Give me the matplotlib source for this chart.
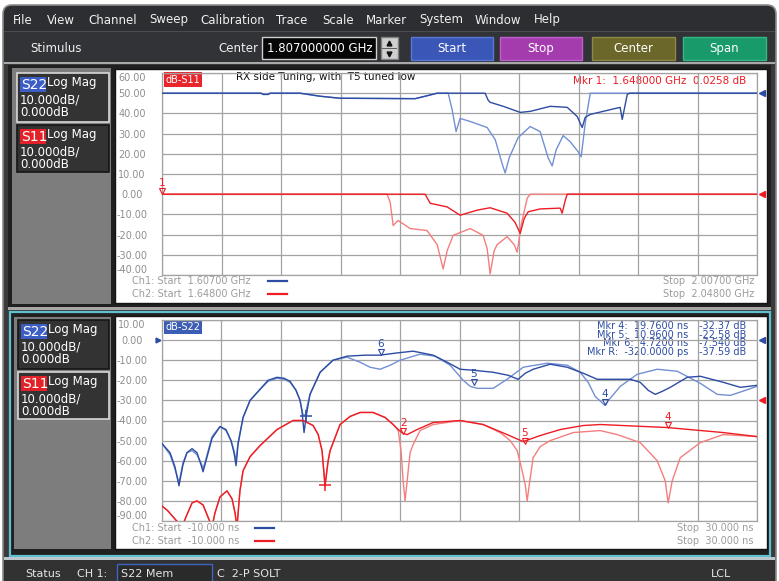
import numpy as np
import matplotlib
matplotlib.use('Agg')
import matplotlib.pyplot as plt
from matplotlib.patches import Rectangle, FancyBboxPatch
from matplotlib.transforms import offset_copy, blended_transform_factory

# ======================= DATA =======================
menu_items = ['File', 'View', 'Channel', 'Sweep', 'Calibration', 'Trace',
              'Scale', 'Marker', 'System', 'Window', 'Help']
center_value = '1.807000000 GHz'
button_labels = ['Start', 'Stop', 'Center', 'Span']

# ---- upper chart: frequency domain (GHz, dB) ----
ch1_start, ch1_stop = 1.607, 2.007
ch2_start, ch2_stop = 1.648, 2.048
upper_ticks = [60, 50, 40, 30, 20, 10, 0, -10, -20, -30, -40]
upper_title = 'RX side Tuning, with  T5 tuned low'

# S22 (Ch1) memory trace (lighter blue)
s22_f_mem = [1.6070, 1.6736, 1.6750, 1.6783, 1.6797, 1.6998, 1.7133, 1.7267, 1.7772,
             1.7839, 1.7920, 1.7994, 1.8020, 1.8047, 1.8074, 1.8142, 1.8256, 1.8310,
             1.8357, 1.8377, 1.8404, 1.8464, 1.8545, 1.8612, 1.8666, 1.8693, 1.8720,
             1.8767, 1.8814, 1.8868, 1.8888, 1.8915, 1.8949, 2.0070]
s22_db_mem = [50, 50, 49.4, 49.4, 50, 50, 48.5, 47.5, 47.3,
              48.5, 50, 50, 42, 31, 37.5, 36, 33, 27,
              15, 10.5, 18, 28, 33.5, 31, 18, 14, 22,
              29, 26, 21, 18.5, 35, 50, 50]
# S22 (Ch1) data trace (darker blue)
s22_f_dat = [1.6070, 1.6736, 1.6750, 1.6783, 1.6797, 1.6998, 1.7133, 1.7267, 1.7772,
             1.7839, 1.7920, 1.8242, 1.8263, 1.8276, 1.8364, 1.8478, 1.8545, 1.8680,
             1.8794, 1.8861, 1.8895, 1.8915, 1.8949, 1.9150, 1.9164, 1.9198, 1.9218, 2.0070]
s22_db_dat = [50, 50, 49.4, 49.4, 50, 50, 48.5, 47.5, 47.3,
              48.5, 50, 50, 46.5, 45.5, 43.5, 40.5, 41, 43.5,
              43, 38.5, 33, 38, 39.5, 43, 37, 49.5, 50, 50]
# S11 (Ch2) memory trace (lighter red)
s11_f_mem = [1.6480, 1.7993, 1.8014, 1.8034, 1.8067, 1.8148, 1.8262, 1.8330, 1.8370,
             1.8397, 1.8437, 1.8552, 1.8639, 1.8666, 1.8686, 1.8713, 1.8733, 1.8800,
             1.8848, 1.8868, 1.8895, 1.8935, 1.8955, 2.0480]
s11_db_mem = [0, 0, -4, -15.5, -13, -17, -18, -25, -37,
              -28, -20.4, -17, -20.4, -27, -39.5, -28, -25, -21,
              -25, -28.7, -15, -2, 0, 0]
# S11 (Ch2) data trace (darker red)
s11_f_dat = [1.6480, 1.8249, 1.8283, 1.8397, 1.8484, 1.8599, 1.8686, 1.8800, 1.8854,
             1.8888, 1.8915, 1.8942, 1.9022, 1.9157, 1.9170, 1.9191, 1.9204, 2.0480]
s11_db_dat = [0, 0, -4.5, -6.3, -10.4, -7.9, -6.7, -9.4, -14,
              -19.4, -12, -8.7, -7.3, -6.9, -9.4, -3, 0, 0]
upper_marker = ('1', 1.648000, 0.0258)

# ---- lower chart: time domain (ns, dB) ----
t_start, t_stop = -10.0, 30.0
lower_ticks = [10, 0, -10, -20, -30, -40, -50, -60, -70, -80, -90]

s22_t_dat = [-10.0, -9.46, -9.13, -8.86, -8.59, -8.32, -7.98, -7.65, -7.38, -7.24, -7.04,
             -6.64, -6.10, -5.70, -5.36, -5.16, -5.02, -4.89, -4.55, -4.08, -3.41, -2.87,
             -2.27, -1.79, -1.39, -0.99, -0.72, -0.58, -0.45, -0.31, -0.05, 0.63, 1.50,
             2.44, 3.65, 4.66, 5.67, 6.88, 8.23, 9.17, 10.04, 10.92, 12.26, 13.27, 13.94,
             14.42, 14.95, 16.10, 17.24, 18.32, 19.26, 21.48, 22.15, 22.69, 23.16, 23.63,
             24.17, 25.31, 26.19, 27.73, 28.88, 30.0]
s22_db_dat_t = [-51.5, -56, -63, -72.5, -62, -56, -54, -56, -62, -65.5, -60,
                -49, -43, -44.5, -50, -56, -62.5, -52, -38.5, -30, -24.5, -20,
                -18.5, -19, -20.5, -25, -30, -36, -46, -38, -27, -16, -10,
                -8, -7.5, -7.5, -6.5, -5.5, -7.5, -11, -14.5, -15, -16, -17.5, -19.5,
                -16.5, -14.5, -12, -13.5, -16.5, -19.5, -19.5, -21, -25, -27, -25.5,
                -23.5, -18.5, -18, -21, -23.5, -22.5]
s22_t_mem = [-10.0, -9.46, -9.13, -8.86, -8.59, -8.32, -7.98, -7.65, -7.38, -7.24, -7.04,
             -6.64, -6.10, -5.70, -5.36, -5.16, -5.02, -4.89, -4.55, -4.08, -3.41, -2.87,
             -2.27, -1.79, -1.39, -0.99, -0.72, -0.52, -0.38, -0.25, -0.05, 0.63, 1.50,
             2.44, 3.31, 3.99, 4.66, 5.34, 6.01, 7.35, 8.36, 9.37, 10.25, 10.72, 11.19,
             12.26, 13.20, 14.28, 15.90, 17.24, 18.11, 18.65, 19.12, 19.76, 20.13, 20.81,
             21.95, 23.29, 24.64, 26.19, 27.33, 28.21, 29.22, 30.0]
s22_db_mem_t = [-51.5, -57, -64, -71, -61, -56, -55, -57, -61, -64, -59,
                -48, -43, -45, -50, -55, -60, -51, -38.5, -30, -24.5, -20.5,
                -19, -19.5, -21, -25, -30, -37, -37.6, -33, -27, -16, -10,
                -8.5, -11, -13.5, -14.5, -12.5, -10, -7, -8, -12.5, -20, -23, -24,
                -24, -19.5, -13.5, -11.5, -12.5, -16, -21, -28, -32.4, -29, -23,
                -17, -14.5, -15.5, -21.5, -27, -27.5, -25, -23]

s11_t_dat = [-10.0, -9.60, -9.13, -8.65, -8.39, -7.98, -7.65, -7.24, -6.91, -6.64, -6.44,
             -6.10, -5.63, -5.29, -5.09, -4.96, -4.76, -4.55, -4.08, -3.41, -2.27, -1.19,
             -0.52, 0.16, 0.50, 0.76, 0.96, 1.17, 1.30, 1.97, 2.64, 3.32, 4.19, 5.00,
             5.54, 5.88, 6.21, 6.48, 7.15, 8.23, 10.04, 11.59, 13.20, 14.28, 15.42, 16.77,
             18.32, 19.46, 23.97, 27.73, 30.0]
s11_db_dat_t = [-82.5, -85, -89, -93, -88, -81, -80, -82, -88, -93, -86,
                -78, -75, -79, -86, -93, -75, -65, -58, -52.5, -44.5, -40,
                -40, -42.5, -47, -55, -72.5, -60, -55, -42, -38, -36, -36, -38.5,
                -42, -44.5, -46.5, -47, -44.5, -41, -40, -42, -47, -50.5, -47.5, -44.5,
                -42.5, -42, -43.5, -46, -48]
s11_t_mem = [-10.0, -9.60, -9.13, -8.65, -8.39, -7.98, -7.65, -7.24, -6.91, -6.64, -6.44,
             -6.10, -5.63, -5.29, -5.09, -4.96, -4.76, -4.55, -4.08, -3.41, -2.27, -1.19,
             -0.52, 0.16, 0.50, 0.76, 0.96, 1.17, 1.30, 1.97, 2.64, 3.32, 4.19, 5.00,
             5.54, 5.88, 6.07, 6.21, 6.34, 6.48, 6.68, 6.88, 7.35, 8.23, 10.04, 11.59,
             12.73, 13.41, 13.88, 14.21, 14.42, 14.55, 14.69, 14.95, 15.42, 16.10, 17.64,
             19.46, 20.60, 22.15, 23.29, 23.83, 24.03, 24.30, 24.84, 26.19, 27.73, 30.0]
s11_db_mem_t = [-82.5, -85, -89, -93, -88, -81, -80, -82, -88, -93, -86,
                -78, -75, -79, -86, -93, -75, -65, -58, -52.5, -44.5, -40,
                -40, -42.5, -47, -55, -72.5, -60, -55, -42, -38, -36, -36, -38.5,
                -42, -45, -55, -70, -80, -70, -56, -52, -45, -42, -40, -42,
                -46, -50, -55, -65, -72, -80, -72, -58.5, -53, -50, -46,
                -45, -47, -51, -60, -70, -81, -70, -58.5, -51, -47, -48]

blue_markers = [('4', 19.76, -32.37), ('5', 10.96, -22.58), ('6', 4.72, -7.54), ('R', -0.32, -37.59)]
red_markers = [('R', 0.96, -72.0), ('2', 6.21, -46.5), ('5', 14.4, -51.5), ('4', 24.0, -43.5)]

status_items = ['Status', 'CH 1:', 'S22 Mem', 'C  2-P SOLT', 'LCL']

# ======================= STYLE =======================
W, H = 779, 581
BLUE_D, BLUE_L = '#2d4ca3', '#7290d2'
RED_D, RED_L = '#ee1c24', '#f47e7e'
GRID = '#a3a3a3'
TICKC = '#8e8e8e'

fig = plt.figure(figsize=(W / 100, H / 100), dpi=100)
fig.patch.set_facecolor('white')

bg = fig.add_axes([0, 0, 1, 1])
bg.set_xlim(0, W)
bg.set_ylim(H, 0)
bg.axis('off')


def rect(x0, y0, x1, y1, fc, ec='none', lw=0, z=1):
    bg.add_patch(Rectangle((x0, y0), x1 - x0, y1 - y0, facecolor=fc,
                           edgecolor=ec, linewidth=lw, zorder=z))


def txt(x, y, s, size=8, color='white', ha='left', va='center', z=5, **kw):
    bg.text(x, y, s, fontsize=size, color=color, ha=ha, va=va, zorder=z, **kw)


# window
bg.add_patch(FancyBboxPatch((3, 5), 773, 600, boxstyle='round,pad=0,rounding_size=9',
                            facecolor='#2c2e32', edgecolor='#8a8a8a', linewidth=1.2, zorder=0.5))
# menu
menu_x = [13, 47, 88, 149, 200, 276, 322, 366, 419, 475, 534]
for mx, m in zip(menu_x, menu_items):
    txt(mx, 20, m, 8.5, '#f0f0f0')
# toolbar
rect(4, 31, 775, 62, '#323337')
rect(4, 31, 775, 32, '#4c4c4c')
txt(30, 48, 'Stimulus', 8.5, '#f0f0f0')
txt(258, 48, 'Center', 8.5, '#f0f0f0', ha='right')
rect(262, 37, 376, 59, '#050505', '#d0d0d0', 1, z=2)
txt(267, 48, center_value, 8.5, 'white')
rect(381, 37, 398, 59, '#cfcfcf', '#808080', 1, z=2)
rect(382, 47.5, 397, 48.5, '#606060', z=3)
bg.plot([389.5], [42.5], marker='^', ms=3.5, color='#111111', zorder=4)
bg.plot([389.5], [53.5], marker='v', ms=3.5, color='#111111', zorder=4)
btn_x = [(411, 493), (500, 582), (592, 675), (683, 766)]
btn_fc = ['#3a57b8', '#a43cae', '#6b6629', '#189a6b']
btn_ec = ['#5a78d8', '#c060cc', '#8d8844', '#34b888']
for (x0, x1), lab, fc, ec in zip(btn_x, button_labels, btn_fc, btn_ec):
    rect(x0, 37, x1, 60, fc, ec, 1, z=2)
    txt((x0 + x1) / 2, 48.5, lab, 8.5, 'white', ha='center')

# main area
rect(4, 62, 775, 64, '#a9a9a9')
rect(4, 64, 775, 562, '#3a3a3a')
# upper panel
rect(8, 65, 771, 307, '#202020')
rect(12, 68, 111, 304, '#7d7d7d', z=2)
rect(115, 69, 767, 303, 'white', '#151515', 1, z=2)
rect(8, 307, 771, 310, '#a6a6a6')
# lower panel
rect(10, 312, 770, 556, '#202020', '#5fc0cf', 1.6)
rect(14, 317, 111, 549, '#7d7d7d', z=2)
rect(115, 316, 767, 549, 'white', '#151515', 1, z=2)
rect(4, 557, 775, 560, '#b8c8cc')
# status bar
rect(4, 560, 775, 581, '#323232')
txt(25, 574, status_items[0], 8, '#e6e6e6')
txt(77, 574, status_items[1], 8, '#e6e6e6')
rect(117, 564, 212, 584, '#2a2a2a', '#3c64c0', 1, z=2)
txt(121, 574, status_items[2], 8, '#e6e6e6')
txt(217, 574, status_items[3], 8, '#e6e6e6')
txt(711, 574, status_items[4], 8, '#e6e6e6')


def trace_box(x0, y0, x1, y1, name, col, selected):
    rect(x0, y0, x1, y1, '#333333', '#d8d8d8' if selected else '#151515', 1.2, z=3)
    rect(x0 + 3, y0 + 4, x0 + 29, y0 + 19, col, z=4)
    txt(x0 + 4, y0 + 12, name, 10, 'white')
    txt(x0 + 30, y0 + 9.5, 'Log Mag', 8.5, 'white')
    txt(x0 + 3, y0 + 27, '10.000dB/', 8.5, 'white')
    txt(x0 + 3, y0 + 39.5, '0.000dB', 8.5, 'white')


trace_box(17, 73, 109, 122, 'S22', '#3c5ec4', True)
trace_box(17, 125, 109, 172, 'S11', '#e22228', False)
trace_box(18, 320, 109, 369, 'S22', '#3c5ec4', False)
trace_box(18, 372, 109, 419, 'S11', '#e22228', True)

# legends / annotations in pixel space
for y, lab, col, st, sp in [(281, 'Ch1', BLUE_D, ch1_start, ch1_stop),
                            (294, 'Ch2', RED_D, ch2_start, ch2_stop)]:
    txt(132, y, f'{lab}: Start  {st:.5f} GHz', 7, '#9c9c9c', z=6)
    bg.plot([268, 287], [y, y], color=col, lw=1.6, zorder=6)
    txt(754, y, f'Stop  {sp:.5f} GHz', 7, '#9c9c9c', ha='right', z=6)
for y, lab, col in [(528, 'Ch1', BLUE_D), (541, 'Ch2', RED_D)]:
    txt(132, y, f'{lab}: Start  {t_start:.3f} ns', 7, '#9c9c9c', z=6)
    bg.plot([255, 274], [y, y], color=col, lw=1.6, zorder=6)
    txt(754, y, f'Stop  {t_stop:.3f} ns', 7, '#9c9c9c', ha='right', z=6)

rect(164, 72, 202, 87, '#e8262c', z=6)
txt(165.5, 80, 'dB-S11', 7, 'white', z=7)
rect(164, 320, 202, 334, '#3d5db5', z=6)
txt(165.5, 327, 'dB-S22', 7, 'white', z=7)
txt(236, 77, upper_title, 7.5, '#111111', z=7)
txt(686, 81, f'Mkr {upper_marker[0]}:  {upper_marker[1]:.6f} GHz', 7.5, RED_D, ha='right', z=7)
txt(746, 81, f'{upper_marker[2]:.4f} dB', 7.5, RED_D, ha='right', z=7)

for i, (lab, t, v) in enumerate(blue_markers):
    y = 326 + i * 8.7
    tstr = f'{t * 1000:.4f} ps' if lab == 'R' else f'{t:.4f} ns'
    txt(688, y, f'Mkr {lab}:  {tstr}', 7, BLUE_D, ha='right', z=7)
    txt(746, y, f'{v:#.4g} dB', 7, BLUE_D, ha='right', z=7)


# ======================= CHART AXES =======================
def px_axes(x0, y0, x1, y1):
    a = fig.add_axes([x0 / W, 1 - y1 / H, (x1 - x0) / W, (y1 - y0) / H])
    a.set_facecolor('none')
    return a


def style_axes(ax, ticks, xlim):
    ax.set_xlim(*xlim)
    ax.set_ylim(ticks[-1], ticks[0])
    ax.set_xticks(np.linspace(xlim[0], xlim[1], 11))
    ax.set_xticklabels([])
    ax.set_yticks(ticks)
    ax.set_yticklabels([f'{v:.2f}' for v in ticks], fontsize=7, color=TICKC)
    ax.tick_params(length=0)
    ax.tick_params(axis='y', pad=21.6)
    labels = ax.get_yticklabels()
    for lb in labels:
        lb.set_horizontalalignment('center')
    ax.grid(True, color=GRID, lw=0.9)
    for s in ax.spines.values():
        s.set_color(GRID)
        s.set_linewidth(0.9)
    ax.set_zorder(3)


def ref_arrow(ax, yval, color, side='right'):
    if side == 'right':
        tr = offset_copy(blended_transform_factory(ax.transAxes, ax.transData), fig=fig, x=5, y=0, units='dots')
        ax.plot([1.0], [yval], marker='<', ms=4, color=color, transform=tr, clip_on=False, zorder=8)
    else:
        tr = offset_copy(blended_transform_factory(ax.transAxes, ax.transData), fig=fig, x=-4, y=0, units='dots')
        ax.plot([0.0], [yval], marker='>', ms=3.5, color=color, transform=tr, clip_on=False, zorder=8)


def draw_marker(ax, lab, x, y, color):
    if lab == 'R':
        ax.plot([x], [y], marker='+', ms=8, mew=1.1, color=color, clip_on=False, zorder=7)
    else:
        ax.plot([x], [y], marker='v', ms=5, mfc='none', mew=0.8, color=color,
                transform=offset_copy(ax.transData, fig=fig, y=3, units='dots'),
                clip_on=False, zorder=7)
        ax.text(x, y, lab, fontsize=7.5, color=color, ha='center', va='center',
                transform=offset_copy(ax.transData, fig=fig, y=11, units='dots'), zorder=7)


# upper chart
ax_u = px_axes(162, 73, 757, 275)
style_axes(ax_u, upper_ticks, (ch1_start, ch1_stop))
ax_u.plot(s22_f_mem, s22_db_mem, color=BLUE_L, lw=1.0, zorder=4)
ax_u.plot(s22_f_dat, s22_db_dat, color=BLUE_D, lw=1.0, zorder=5)
ax_u2 = ax_u.twiny()
ax_u2.set_xlim(ch2_start, ch2_stop)
ax_u2.axis('off')
ax_u2.set_zorder(4)
ax_u2.plot(s11_f_mem, s11_db_mem, color=RED_L, lw=1.0, zorder=4)
ax_u2.plot(s11_f_dat, s11_db_dat, color=RED_D, lw=1.0, zorder=5)
draw_marker(ax_u2, upper_marker[0], upper_marker[1], upper_marker[2], RED_D)
ref_arrow(ax_u, 50, BLUE_D)
ref_arrow(ax_u, 0, RED_D)

# lower chart
ax_l = px_axes(162, 320, 757, 521)
style_axes(ax_l, lower_ticks, (t_start, t_stop))
ax_l.plot(s22_t_mem, s22_db_mem_t, color=BLUE_L, lw=1.0, zorder=4)
ax_l.plot(s22_t_dat, s22_db_dat_t, color=BLUE_D, lw=1.0, zorder=5)
ax_l.plot(s11_t_mem, s11_db_mem_t, color=RED_L, lw=1.0, zorder=4)
ax_l.plot(s11_t_dat, s11_db_dat_t, color=RED_D, lw=1.0, zorder=5)
for lab, t, v in blue_markers:
    draw_marker(ax_l, lab, t, v, BLUE_D)
for lab, t, v in red_markers:
    draw_marker(ax_l, lab, t, v, RED_D)
ref_arrow(ax_l, 0, BLUE_D)
ref_arrow(ax_l, -30, RED_D)
ref_arrow(ax_l, 0, BLUE_D, side='left')

# clamp the outer tick labels inside the grid like the instrument does
for ax in (ax_u, ax_l):
    lbs = ax.get_yticklabels()
    lbs[0].set_verticalalignment('top')
    lbs[-1].set_verticalalignment('bottom')

fig.savefig('out.png', dpi=100, facecolor=fig.get_facecolor())
